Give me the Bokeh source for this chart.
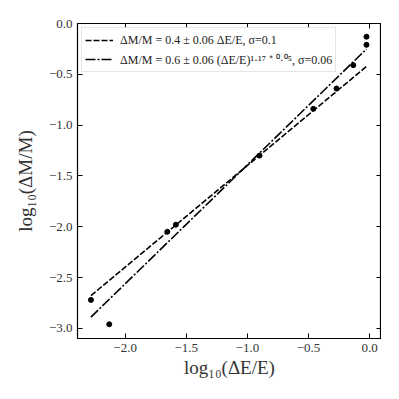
import numpy as np
from bokeh.plotting import figure
from bokeh.models import FixedTicker, LinearAxis, Range1d, Legend, LegendItem
from bokeh.embed import file_html
from bokeh.resources import INLINE

# data points (log10 dE/E, log10 dM/M)
log_dE = [-2.28, -2.13, -1.655, -1.585, -0.90, -0.46, -0.27, -0.133, -0.025, -0.025]
log_dM = [-2.72, -2.96, -2.05, -1.98, -1.30, -0.84, -0.64, -0.41, -0.21, -0.13]

# fit parameters from legend
fit1_amp, fit1_exp = 0.4, 1.0
fit2_amp, fit2_exp = 0.6, 1.17

x_ticks = [-2.0, -1.5, -1.0, -0.5, 0.0]
y_ticks = [0.0, -0.5, -1.0, -1.5, -2.0, -2.5, -3.0]

label1 = "ΔM/M = 0.4 ± 0.06 ΔE/E, σ=0.1"
label2 = "ΔM/M = 0.6 ± 0.06 (ΔE/E)¹·¹⁷ ⁺ ⁰·⁰⁵, σ=0.06"

SERIF = "Liberation Serif"

p = figure(width=391, height=391, frame_width=304, frame_height=315,
           output_backend="svg", toolbar_location=None,
           x_range=Range1d(-2.39, 0.098), y_range=Range1d(-3.1, 0.0),
           min_border_left=77, min_border_right=0, min_border_top=23, min_border_bottom=0)
p.xgrid.visible = False
p.ygrid.visible = False
p.outline_line_color = "black"
p.outline_line_width = 1.2
p.background_fill_color = "white"
p.border_fill_color = "white"

xs = np.array([min(log_dE), max(log_dE)])
y1 = np.log10(fit1_amp) + fit1_exp * xs
y2 = np.log10(fit2_amp) + fit2_exp * xs

r1 = p.line(xs, y1, line_color="black", line_width=1.6, line_dash="6 2")
r2 = p.line(xs, y2, line_color="black", line_width=1.6, line_dash="10 2 2 2")
p.scatter(log_dE, log_dM, size=5, color="black")

def style(ax, labels=True):
    ax.major_tick_in = 5
    ax.major_tick_out = 0
    ax.minor_tick_in = 0
    ax.minor_tick_out = 0
    ax.axis_line_color = "black"
    ax.major_tick_line_color = "black"
    ax.major_label_text_font = SERIF
    ax.major_label_text_font_size = "13px"
    ax.major_label_text_color = "#333333"
    if not labels:
        ax.major_label_text_alpha = 0
        ax.major_label_text_font_size = "1px"
        ax.major_label_standoff = 0

xlabels = {v: ("0.0" if v == 0 else f"{v:.1f}".replace("-", "−")) for v in x_ticks}
ylabels = {v: ("0.0" if v == 0 else f"{v:.1f}".replace("-", "−")) for v in y_ticks}

p.xaxis.ticker = FixedTicker(ticks=x_ticks)
p.yaxis.ticker = FixedTicker(ticks=y_ticks)
p.xaxis.major_label_overrides = xlabels
p.yaxis.major_label_overrides = ylabels
style(p.xaxis[0])
style(p.yaxis[0])
p.xaxis.axis_label = "log₁₀(ΔE/E)"
p.yaxis.axis_label = "log₁₀(ΔM/M)"
for ax in (p.xaxis[0], p.yaxis[0]):
    ax.axis_label_text_font = SERIF
    ax.axis_label_text_font_size = "19px"
    ax.axis_label_text_font_style = "normal"
    ax.axis_label_text_color = "#333333"
p.xaxis.axis_label_standoff = 2
p.yaxis.axis_label_standoff = 10

top = LinearAxis(ticker=FixedTicker(ticks=x_ticks))
right = LinearAxis(ticker=FixedTicker(ticks=y_ticks))
style(top, False)
style(right, False)
p.add_layout(top, "above")
p.add_layout(right, "right")

legend = Legend(items=[LegendItem(label=label1, renderers=[r1]),
                       LegendItem(label=label2, renderers=[r2])],
                location="top_left")
legend.label_text_font = SERIF
legend.label_text_font_size = "12px"
legend.label_text_color = "#222222"
legend.glyph_width = 28
legend.glyph_height = 18
legend.label_height = 18
legend.spacing = 1
legend.padding = 3
legend.margin = 4
legend.border_line_color = "#cccccc"
legend.border_line_width = 1
legend.background_fill_alpha = 0.85
legend.label_standoff = 7
p.add_layout(legend)

open("out.html", "w").write(file_html(p, INLINE))
